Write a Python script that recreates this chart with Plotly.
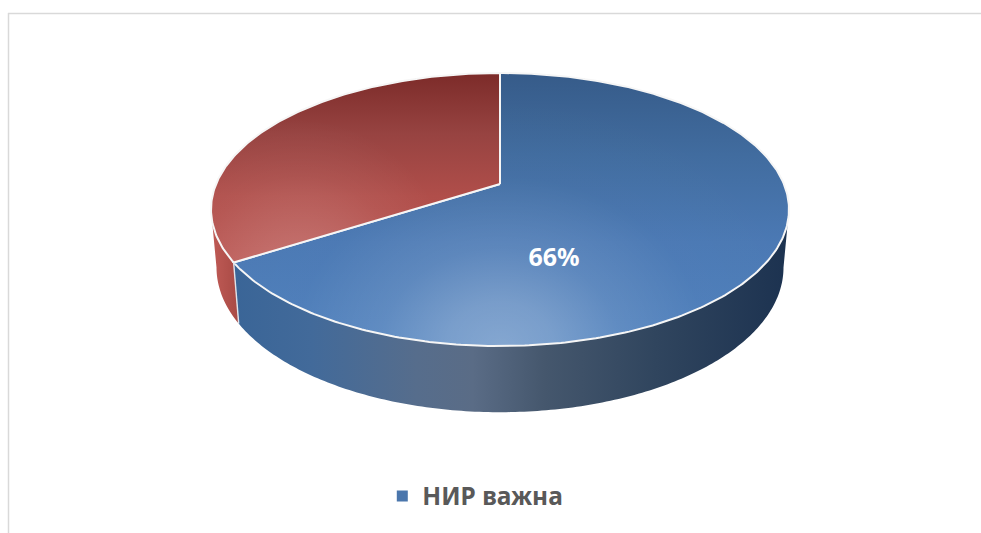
import numpy as np
import plotly.graph_objects as go

# Chart data
categories = ["НИР важна", ""]
shares = [66, 34]

WIDTH, HEIGHT = 981, 533

# Perspective model of the tilted disc, in screen pixels
CX = 500.0
APEX_Y = 184.0
TILT = -0.1868
SPREAD_X = 283.9
SPREAD_Y = 97.4
# Lower rim of the cylinder is a scaled copy of the upper one
BASE_SCALE_X = 0.981
BASE_SCALE_Y = 1.06
BASE_SHIFT_Y = 45.4
# Clockwise angle from the top where the disc outline is widest
WIDE_RIGHT = 100.8
WIDE_LEFT = 259.2


def top_rim(deg):
    a = np.radians(np.asarray(deg, dtype=float))
    u, v = np.sin(a), -np.cos(a)
    d = 1 + TILT * v
    return CX + SPREAD_X * u / d, (SPREAD_Y * v + APEX_Y) / d


def base_rim(deg):
    x, y = top_rim(deg)
    return CX + BASE_SCALE_X * (x - CX), BASE_SHIFT_Y + BASE_SCALE_Y * y


def arc(start, stop, step=0.75):
    n = max(int(abs(stop - start) / step), 2) + 1
    return np.linspace(start, stop, n)


def wedge(start, stop):
    x, y = top_rim(arc(start, stop))
    apex_x, apex_y = np.array([CX]), np.array([APEX_Y])
    return np.r_[apex_x, x, apex_x], np.r_[apex_y, y, apex_y]


def wall(start, stop):
    t = arc(start, stop)
    x1, y1 = top_rim(t)
    x2, y2 = base_rim(t[::-1])
    return np.r_[x1, x2, x1[:1]], np.r_[y1, y2, y1[:1]]


def with_spurs(x, y, corners):
    # Retraced zero-area spurs widen the fill's box, which sets the radial centre
    xs, ys = list(x), list(y)
    for cx, cy in corners:
        xs += [cx, xs[0]]
        ys += [cy, ys[0]]
    return xs, ys


split = 360 * shares[0] / sum(shares)
NO_LINE = dict(width=0, simplify=False)

fig = go.Figure()

# Cylinder walls
x, y = wall(WIDE_RIGHT, split)
fig.add_trace(go.Scatter(
    x=x, y=y, mode="lines", fill="toself", line=NO_LINE, showlegend=False, hoverinfo="skip",
    fillgradient=dict(type="horizontal", colorscale=[
        [0.0, "#3a6597"], [0.14, "#426a9a"], [0.33, "#566d8c"], [0.43, "#5a6c86"],
        [0.56, "#45576d"], [0.76, "#30455e"], [1.0, "#1c3250"],
    ]),
))
x, y = wall(split, WIDE_LEFT)
fig.add_trace(go.Scatter(
    x=x, y=y, mode="lines", fill="toself", line=NO_LINE, showlegend=False, hoverinfo="skip",
    fillgradient=dict(type="horizontal", colorscale=[[0.0, "#c05b56"], [1.0, "#a84a45"]]),
))

# Disc faces: a vertical shade plus a soft glow, each with its own glow centre
# (the y axis runs downward, so stops go from the front edge to the back)
faces = [
    dict(start=0, stop=split,
         shade=[[0.0, "#5081bd"], [0.38, "#4b79b4"], [0.70, "#416c9f"], [1.0, "#365b89"]],
         glow_box=[(170, 619), (830, 73)],
         glow=[[0.0, 0.30], [0.16, 0.24], [0.36, 0.10], [0.62, 0.01], [1.0, 0.0]]),
    dict(start=split, stop=360,
         shade=[[0.0, "#b9534f"], [0.35, "#b04e4a"], [0.68, "#974341"], [1.0, "#7c2b29"]],
         glow_box=[(100, 527), (500, 73)],
         glow=[[0.0, 0.24], [0.25, 0.16], [0.55, 0.05], [0.80, 0.0], [1.0, 0.0]]),
]
for face in faces:
    x, y = wedge(face["start"], face["stop"])
    fig.add_trace(go.Scatter(
        x=x, y=y, mode="lines", fill="toself", line=NO_LINE, showlegend=False, hoverinfo="skip",
        fillgradient=dict(type="vertical", colorscale=face["shade"]),
    ))
    gx, gy = with_spurs(x, y, face["glow_box"])
    fig.add_trace(go.Scatter(
        x=gx, y=gy, mode="lines", fill="toself", line=NO_LINE, showlegend=False, hoverinfo="skip",
        fillgradient=dict(type="radial", colorscale=[
            [pos, f"rgba(255,255,255,{alpha})"] for pos, alpha in face["glow"]
        ]),
    ))
    fig.add_trace(go.Scatter(
        x=x, y=y, mode="lines", line=dict(color="#f6f6f6", width=2),
        showlegend=False, hoverinfo="skip",
    ))

# Seam between the two walls
sx1, sy1 = top_rim(split)
sx2, sy2 = base_rim(split)
fig.add_trace(go.Scatter(
    x=[sx1, sx2], y=[sy1, sy2], mode="lines", line=dict(color="#dfe3ea", width=1.4),
    showlegend=False, hoverinfo="skip",
))

# Value label
fig.add_trace(go.Scatter(
    x=[554], y=[260], mode="text", text=[f"{shares[0]}%"], showlegend=False, hoverinfo="skip",
    textposition="middle center",
    textfont=dict(family="Noto Sans", size=25, color="#ffffff", weight="bold"),
))

# Legend entry
fig.add_trace(go.Scatter(
    x=[None], y=[None], mode="markers", name=categories[0],
    marker=dict(symbol="square", size=11, color="#4a76ac"),
))

fig.update_layout(
    width=WIDTH, height=HEIGHT,
    margin=dict(l=0, r=0, t=0, b=0),
    paper_bgcolor="#ffffff", plot_bgcolor="#ffffff",
    xaxis=dict(range=[0, WIDTH], visible=False, fixedrange=True),
    yaxis=dict(range=[HEIGHT, 0], visible=False, fixedrange=True),
    showlegend=True,
    legend=dict(
        x=0.4845, y=1 - 496 / HEIGHT, xanchor="center", yanchor="middle",
        font=dict(family="Noto Sans", size=24.5, color="#595959", weight="bold"),
        bgcolor="rgba(0,0,0,0)", itemwidth=30,
    ),
    shapes=[
        dict(type="line", xref="x", yref="y", x0=8, x1=WIDTH, y0=13.5, y1=13.5,
             line=dict(color="#d9d9d9", width=1.5), layer="below"),
        dict(type="line", xref="x", yref="y", x0=8.5, x1=8.5, y0=13, y1=HEIGHT,
             line=dict(color="#d9d9d9", width=1.5), layer="below"),
    ],
)

fig.write_html("out.html", config=dict(displayModeBar=False))
